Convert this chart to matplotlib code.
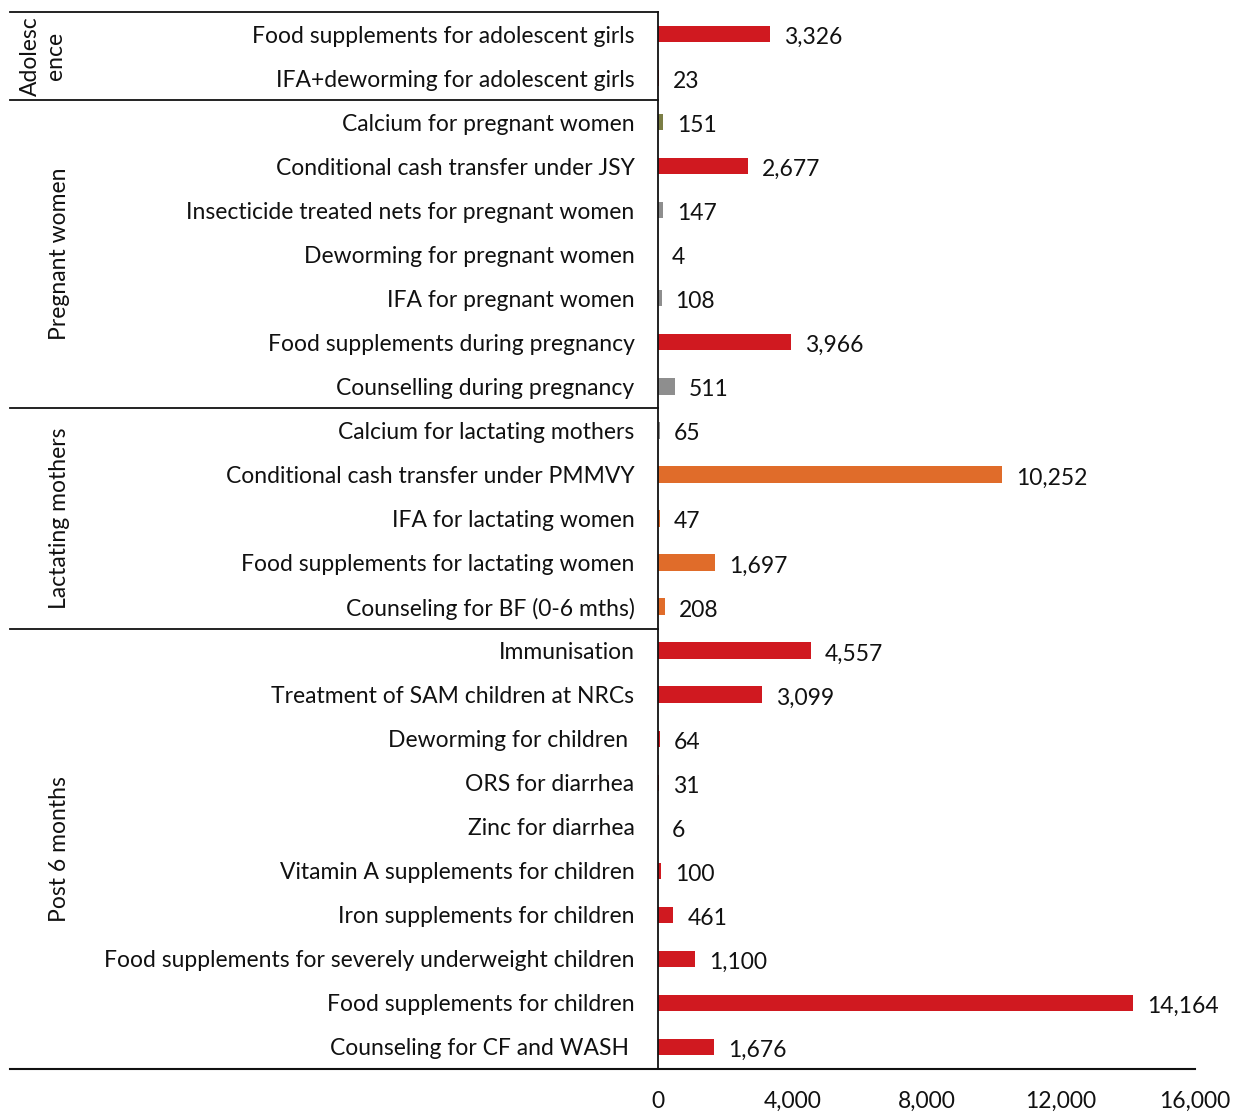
import matplotlib
matplotlib.use("Agg")
import matplotlib.pyplot as plt
import matplotlib.transforms as mtransforms
from matplotlib.lines import Line2D

plt.rcParams['font.family'] = ['Lato', 'DejaVu Sans']

categories = [
    "Food supplements for adolescent girls",
    "IFA+deworming for adolescent girls",
    "Calcium for pregnant women",
    "Conditional cash transfer under JSY",
    "Insecticide treated nets for pregnant women",
    "Deworming for pregnant women",
    "IFA for pregnant women",
    "Food supplements during pregnancy",
    "Counselling during pregnancy",
    "Calcium for lactating mothers",
    "Conditional cash transfer under PMMVY",
    "IFA for lactating women",
    "Food supplements for lactating women",
    "Counseling for BF (0-6 mths)",
    "Immunisation",
    "Treatment of SAM children at NRCs",
    "Deworming for children ",
    "ORS for diarrhea",
    "Zinc for diarrhea",
    "Vitamin A supplements for children",
    "Iron supplements for children",
    "Food supplements for severely underweight children",
    "Food supplements for children",
    "Counseling for CF and WASH ",
]
values = [3326, 23, 151, 2677, 147, 4, 108, 3966, 511, 65, 10252, 47, 1697, 208,
          4557, 3099, 64, 31, 6, 100, 461, 1100, 14164, 1676]
bar_colors = ["red", "red", "olive", "red", "grey", "grey", "grey", "red", "grey",
              "grey", "orange", "orange", "orange", "orange",
              "red", "red", "red", "red", "red", "red", "red", "red", "red", "red"]
groups = ["Adolesc\nence", "Pregnant women", "Lactating mothers", "Post 6 months"]
group_sizes = [2, 7, 5, 10]
xticks = [0, 4000, 8000, 12000, 16000]

palette = {"red": "#D01920", "orange": "#E06C2A", "grey": "#8E8E8E", "olive": "#7B7E45"}

W, H = 1233, 1112
fig = plt.figure(figsize=(W / 100, H / 100), dpi=100)
left, right = 658 / W, 1195 / W
bottom, top = 1 - 1069 / H, 1 - 12 / H
ax = fig.add_axes([left, bottom, right - left, top - bottom])

n = len(categories)
ypos = list(range(n))
ax.barh(ypos, values, height=0.37, color=[palette[c] for c in bar_colors])
ax.set_ylim(n - 0.5, -0.5)
ax.set_xlim(0, 16000)

fs = 16.5
for y, v in zip(ypos, values):
    ax.annotate(f"{v:,}", xy=(v, y), xytext=(10, -2.5), textcoords="offset points",
                va="center", ha="left", fontsize=fs, color="#111111")

ax.set_yticks(ypos)
ax.set_yticklabels(categories, fontsize=fs, color="#111111")
ax.tick_params(axis="y", length=0, pad=17)
ax.set_xticks(xticks)
ax.set_xticklabels([f"{t:,}" for t in xticks], fontsize=fs, color="#111111")
ax.tick_params(axis="x", length=0, pad=16)

for s in ["top", "right", "bottom"]:
    ax.spines[s].set_visible(False)
ax.spines["left"].set_color("#111111")
ax.spines["left"].set_linewidth(1.3)

# separators
trans = mtransforms.blended_transform_factory(fig.transFigure, ax.transData)
x0 = 10 / W
boundaries = [-0.5]
acc = 0
for gs in group_sizes:
    acc += gs
    boundaries.append(acc - 0.5)
for b in boundaries[:-1]:
    fig.add_artist(Line2D([x0, left], [b, b], transform=trans, color="#111111", lw=1.3))
fig.add_artist(Line2D([x0, right], [boundaries[-1]] * 2, transform=trans, color="#111111", lw=1.5))

# group labels
start = -0.5
for g, gs in zip(groups, group_sizes):
    mid = start + gs / 2
    xg = 43 / W if "\n" in g else 60 / W
    t = fig.text(xg, 0, g, transform=trans, rotation=90, ha="center", va="center",
                 fontsize=fs, color="#111111", linespacing=1.2)
    t.set_y(mid)
    start += gs

fig.savefig("out.png", dpi=100)
